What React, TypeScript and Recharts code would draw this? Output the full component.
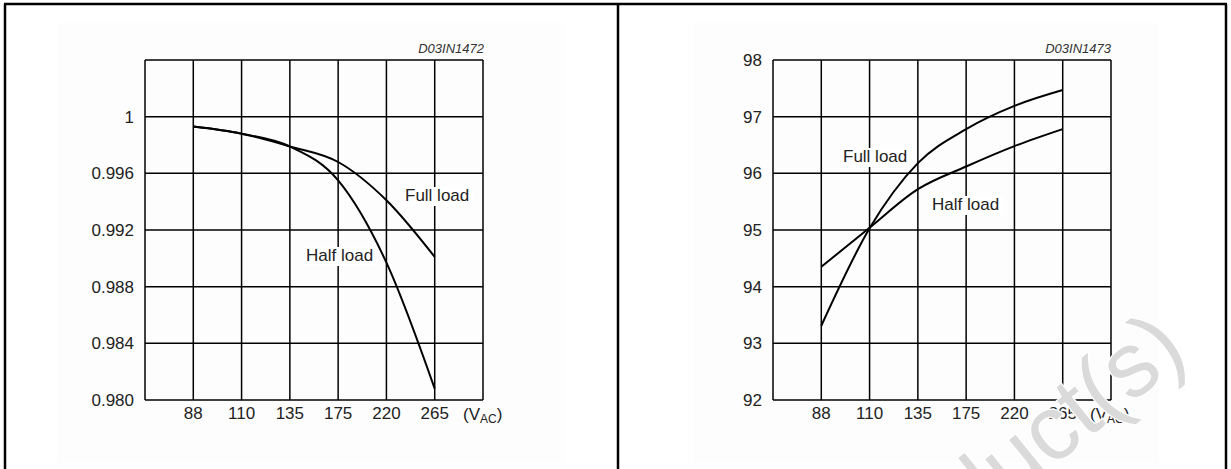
import React from 'react';
import { LineChart, Line, XAxis, YAxis, CartesianGrid } from 'recharts';

// Input voltage categories (V AC)
const categories = ['88', '110', '135', '175', '220', '265'];

// Left chart: power factor
const pfFullLoad = [0.9993, 0.9988, 0.9979, 0.9968, 0.9941, 0.9901];
const pfHalfLoad = [0.9993, 0.9988, 0.9979, 0.9955, 0.9897, 0.9808];
const pfTicks = [0.98, 0.984, 0.988, 0.992, 0.996, 1.0, 1.004];
const pfTickLabels = ['0.980', '0.984', '0.988', '0.992', '0.996', '1', ''];

// Right chart: efficiency (%)
const effFullLoad = [93.31, 95.03, 96.18, 96.78, 97.19, 97.47];
const effHalfLoad = [94.35, 95.04, 95.72, 96.12, 96.48, 96.78];
const effTicks = [92, 93, 94, 95, 96, 97, 98];
const effTickLabels = ['92', '93', '94', '95', '96', '97', '98'];

// x positions: 0 and 7 are the plot borders, 1..6 are the categories
const xTicks = [0, 1, 2, 3, 4, 5, 6, 7];

const FONT = '"Liberation Sans", Arial, Helvetica, sans-serif';
const TEXT = '#222';

const pfData = categories.map((c, i) => ({ x: i + 1, label: c, full: pfFullLoad[i], half: pfHalfLoad[i] }));
const effData = categories.map((c, i) => ({ x: i + 1, label: c, full: effFullLoad[i], half: effHalfLoad[i] }));

const xFmt = (v: number) => (v >= 1 && v <= 6 ? categories[v - 1] : '');

function Panel(props: {
  data: any[];
  yTicks: number[];
  yLabels: string[];
  left: number;
  margin: { top: number; right: number; bottom: number; left: number };
}) {
  const { data, yTicks, yLabels, left, margin } = props;
  const yFmt = (v: number) => {
    const idx = yTicks.findIndex((t) => Math.abs(t - v) < 1e-9);
    return idx >= 0 ? yLabels[idx] : '';
  };
  return (
    <div style={{ position: 'absolute', left, top: 0 }}>
      <LineChart width={600} height={469} data={data} margin={margin}>
        <CartesianGrid stroke="#000" strokeWidth={1.5} strokeOpacity={1} fill="none" />
        <XAxis
          type="number"
          dataKey="x"
          domain={[0, 7]}
          ticks={xTicks}
          interval={0}
          tickFormatter={xFmt}
          axisLine={false}
          tickLine={false}
          tickSize={0}
          tickMargin={7}
          height={30}
          tick={{ fontSize: 17, fill: TEXT, fontFamily: FONT }}
          allowDataOverflow
        />
        <YAxis
          type="number"
          domain={[yTicks[0], yTicks[yTicks.length - 1]]}
          ticks={yTicks}
          interval={0}
          tickFormatter={yFmt}
          axisLine={false}
          tickLine={false}
          tickSize={0}
          tickMargin={11}
          width={60}
          tick={{ fontSize: 17, fill: TEXT, fontFamily: FONT }}
          allowDataOverflow
        />
        <Line type="monotone" dataKey="full" stroke="#000" strokeWidth={2} dot={false} isAnimationActive={false} />
        <Line type="monotone" dataKey="half" stroke="#000" strokeWidth={2} dot={false} isAnimationActive={false} />
      </LineChart>
    </div>
  );
}

function Note(props: { x: number; y: number; w: number; text: string }) {
  const { x, y, w, text } = props;
  return (
    <g>
      <rect x={x - 2} y={y - 14} width={w + 4} height={19} fill="#fff" />
      <text x={x} y={y} fontSize={17} fill={TEXT} fontFamily={FONT}>
        {text}
      </text>
    </g>
  );
}

function Vac(props: { x: number; y: number }) {
  return (
    <text x={props.x} y={props.y} fontSize={17} fill={TEXT} fontFamily={FONT}>
      (V
      <tspan fontSize={12} dy={3}>AC</tspan>
      <tspan dy={-3}>)</tspan>
    </text>
  );
}

export default function App() {
  return (
    <div style={{ position: 'relative', width: 1231, height: 469, background: '#fff', overflow: 'hidden' }}>
      <style>{`body{margin:0;background:#fff}`}</style>
      <svg width={1231} height={469} style={{ position: 'absolute', left: 0, top: 0 }}>
        <rect x={57} y={23} width={508} height={440} fill="#fdfdfd" />
        <rect x={693} y={23} width={466} height={440} fill="#fdfdfd" />
      </svg>
      <Panel data={pfData} yTicks={pfTicks} yLabels={pfTickLabels} left={0} margin={{ top: 60, right: 117, bottom: 39, left: 85 }} />
      <Panel data={effData} yTicks={effTicks} yLabels={effTickLabels} left={616} margin={{ top: 60, right: 105, bottom: 39, left: 97 }} />
      <svg width={1231} height={469} style={{ position: 'absolute', left: 0, top: 0, pointerEvents: 'none' }}>
        {/* frame */}
        <line x1={4} y1={4} x2={1227} y2={4} stroke="#000" strokeWidth={2.5} />
        <line x1={5} y1={4} x2={5} y2={469} stroke="#000" strokeWidth={2.5} />
        <line x1={618} y1={4} x2={618} y2={469} stroke="#000" strokeWidth={2.5} />
        <line x1={1226} y1={4} x2={1226} y2={469} stroke="#000" strokeWidth={2.5} />
        {/* figure codes */}
        <text x={484} y={53} textAnchor="end" fontSize={13} fontStyle="italic" fill="#333" fontFamily={FONT}>D03IN1472</text>
        <text x={1111} y={53} textAnchor="end" fontSize={13} fontStyle="italic" fill="#333" fontFamily={FONT}>D03IN1473</text>
        {/* unit labels */}
        <Vac x={463} y={420} />
        <Vac x={1090} y={420} />
        {/* curve labels */}
        <Note x={405} y={201} w={66} text="Full load" />
        <Note x={306} y={261} w={69} text="Half load" />
        <Note x={843} y={162} w={67} text="Full load" />
        <Note x={932} y={210} w={70} text="Half load" />
        {/* watermark */}
        <text
          x={1190}
          y={356}
          transform="rotate(-39 1190 356)"
          textAnchor="end"
          fontSize={92}
          fill="#dadada"
          stroke="#fff"
          strokeWidth={2.5}
          paintOrder="stroke"
          fontFamily={FONT}
        >
          Product(s)
        </text>
      </svg>
    </div>
  );
}
